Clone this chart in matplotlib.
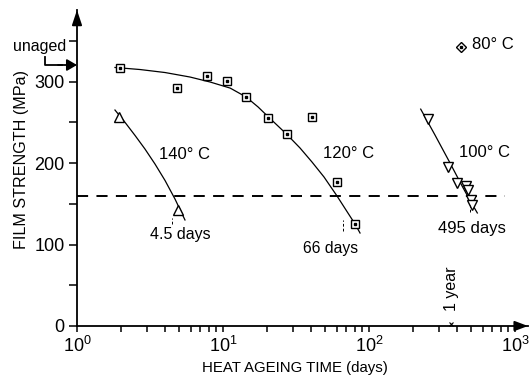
import matplotlib
matplotlib.use("Agg")
import matplotlib.pyplot as plt
from matplotlib import font_manager
import numpy as np

# ---------------- data ----------------
sq120_x = [1.97, 4.86, 7.73, 10.6, 14.4, 20.4, 27.3, 40.5, 60.1, 80.2]
sq120_y = [316, 292, 307, 300.6, 280.6, 255.6, 235, 256.8, 177, 124.8]
fit120_x = [1.82, 2.70, 4.01, 5.94, 8.15, 11.2, 14.4, 17.4, 20.3, 23.8, 27.4,
            33.7, 40.7, 49.2, 60.4, 69.6, 80.2, 86.8]
fit120_y = [317.2, 314.7, 311.0, 305.5, 299.4, 291.9, 281.0, 268.7, 257.1, 245.4,
            235.0, 218.4, 201.2, 182.8, 159.5, 142.3, 125.2, 114.1]

tri140_x = [1.95, 4.94]
tri140_y = [256.8, 142]
fit140_x = [1.82, 2.13, 2.50, 2.92, 3.42, 4.01, 4.69, 5.49]
fit140_y = [265.0, 250.0, 233.7, 217.2, 198.8, 178.5, 155.8, 130.1]

tri100_x = [252, 349, 403, 462, 479, 497, 505]
tri100_y = [253.6, 195.5, 175, 172, 167, 154.6, 148]
fit100_x = [226, 283, 359, 434, 492, 552]
fit100_y = [266.1, 234.4, 200.0, 171.8, 154.0, 138.7]

pt80_x = [425]
pt80_y = [342.7]

threshold = 160
unaged = 320
crossing_days = [4.5, 66, 495]
one_year = 365

xticks = [1, 10, 100, 1000]
xticklabels = [r"$\mathregular{10^{0}}$", r"$\mathregular{10^{1}}$",
               r"$\mathregular{10^{2}}$", r"$\mathregular{10^{3}}$"]
yticks = [0, 100, 200, 300]
yticklabels = ["0", "100", "200", "300"]

# ---------------- fonts ----------------
names = {f.name for f in font_manager.fontManager.ttflist}
main_font = "Liberation Sans Narrow" if "Liberation Sans Narrow" in names else "Liberation Sans"
plt.rcParams["font.family"] = [main_font, "DejaVu Sans"]
plt.rcParams["mathtext.default"] = "regular"
plt.rcParams["lines.scale_dashes"] = False

W, H = 532, 379
fig = plt.figure(figsize=(W / 100, H / 100), dpi=100)

def px(x, y):
    return (x / W, 1 - y / H)

x0, x1, y0, y1 = 77, 528, 326, 10
ax = fig.add_axes([x0 / W, 1 - y0 / H, (x1 - x0) / W, (y0 - y1) / H])
ax.set_xscale("log")
ax.set_xlim(1, 10 ** ((x1 - x0) / 146))
ax.set_ylim(0, (y0 - y1) / 0.815)

for s in ["top", "right"]:
    ax.spines[s].set_visible(False)
for s in ["left", "bottom"]:
    ax.spines[s].set_linewidth(1.3)

ax.set_xticks(xticks)
ax.set_xticklabels(xticklabels, fontsize=13)
ax.set_xticks([m * 10 ** e for e in range(3) for m in range(2, 10)], minor=True)
ax.set_yticks(yticks)
ax.set_yticklabels(yticklabels, fontsize=13)
ax.set_yticks([50, 150, 250, 350], minor=True)
ax.tick_params(axis="x", which="both", direction="out", length=4, width=1.1, pad=3)
ax.tick_params(axis="x", which="minor", labelbottom=False)
ax.tick_params(axis="y", which="both", direction="out", length=6, width=1.1, pad=3)

# axis arrows
ax.annotate("", xy=(1.0, 0), xytext=(0.97, 0), xycoords="axes fraction",
            arrowprops=dict(arrowstyle="-|>,head_length=0.8,head_width=0.3",
                            color="black", lw=1.3, shrinkA=0, shrinkB=0))
ax.annotate("", xy=(0, 1.0), xytext=(0, 0.96), xycoords="axes fraction",
            arrowprops=dict(arrowstyle="-|>,head_length=0.9,head_width=0.3",
                            color="black", lw=1.3, shrinkA=0, shrinkB=0))

# threshold dashed line
ax.plot([1, 850], [threshold, threshold], color="black", lw=1.4, dashes=(8, 6))

# fitted curves
for fx, fy in [(fit120_x, fit120_y), (fit140_x, fit140_y), (fit100_x, fit100_y)]:
    ax.plot(fx, fy, color="black", lw=0.9)

# markers
ax.plot(sq120_x, sq120_y, ls="none", marker="s", ms=6, mfc="white", mec="black", mew=1.0)
ax.plot(sq120_x, sq120_y, ls="none", marker="s", ms=1.5, mfc="black", mec="black")
ax.plot(tri140_x, tri140_y, ls="none", marker="^", ms=6.5, mfc="white", mec="black", mew=1.0)
ax.plot(tri100_x, tri100_y, ls="none", marker="v", ms=6.5, mfc="white", mec="black", mew=1.0)
ax.plot(pt80_x, pt80_y, ls="none", marker="D", ms=5, mfc="white", mec="black", mew=1.0)
ax.plot(pt80_x, pt80_y, ls="none", marker="s", ms=1.5, mfc="black", mec="black")

# short drop marks at crossing times
for d, (ya, yb) in zip(crossing_days, [(125, 132), (116, 130), (140, 148)]):
    ax.plot([d, d], [ya, yb], color="black", lw=0.7, dashes=(2, 1.5))

# 1 year marker
ax.plot([one_year], [3], marker="x", ms=3, color="black", mew=0.8, clip_on=False)
ax.text(one_year, 46, "1 year", rotation=90, ha="center", va="center", fontsize=11.5)

# labels
ax.text(3.64, 211, "140° C", ha="left", va="center", fontsize=12)
ax.text(48.2, 212, "120° C", ha="left", va="center", fontsize=12)
ax.text(416, 212.6, "100° C", ha="left", va="center", fontsize=12)
ax.text(505, 345, "80° C", ha="left", va="center", fontsize=12)
ax.text(3.16, 111.7, "4.5 days", ha="left", va="center", fontsize=11.5)
ax.text(35.5, 95.3, "66 days", ha="left", va="center", fontsize=11.3)
ax.text(298, 119.9, "495 days", ha="left", va="center", fontsize=12)

# unaged arrow
fig.text(*px(13, 47), "unaged", ha="left", va="center", fontsize=11.5)
fig.add_artist(plt.Line2D([45 / W, 45 / W, 62 / W], [1 - 57 / H, 1 - 65 / H, 1 - 65 / H],
                          transform=fig.transFigure, color="black", lw=1.3))
fig.add_artist(matplotlib.patches.FancyArrowPatch(px(58, 65), px(77, 65),
               transform=fig.transFigure, arrowstyle="-|>,head_length=6,head_width=3.5",
               color="black", lw=1.3, shrinkA=0, shrinkB=0))

# axis titles
fig.text(*px(22, 160), "FILM STRENGTH (MPa)", rotation=90, ha="center", va="center", fontsize=11.6)
fig.text(*px(295, 368), "HEAT AGEING TIME (days)", ha="center", va="center", fontsize=10.8)

fig.savefig("out.png", dpi=100)
